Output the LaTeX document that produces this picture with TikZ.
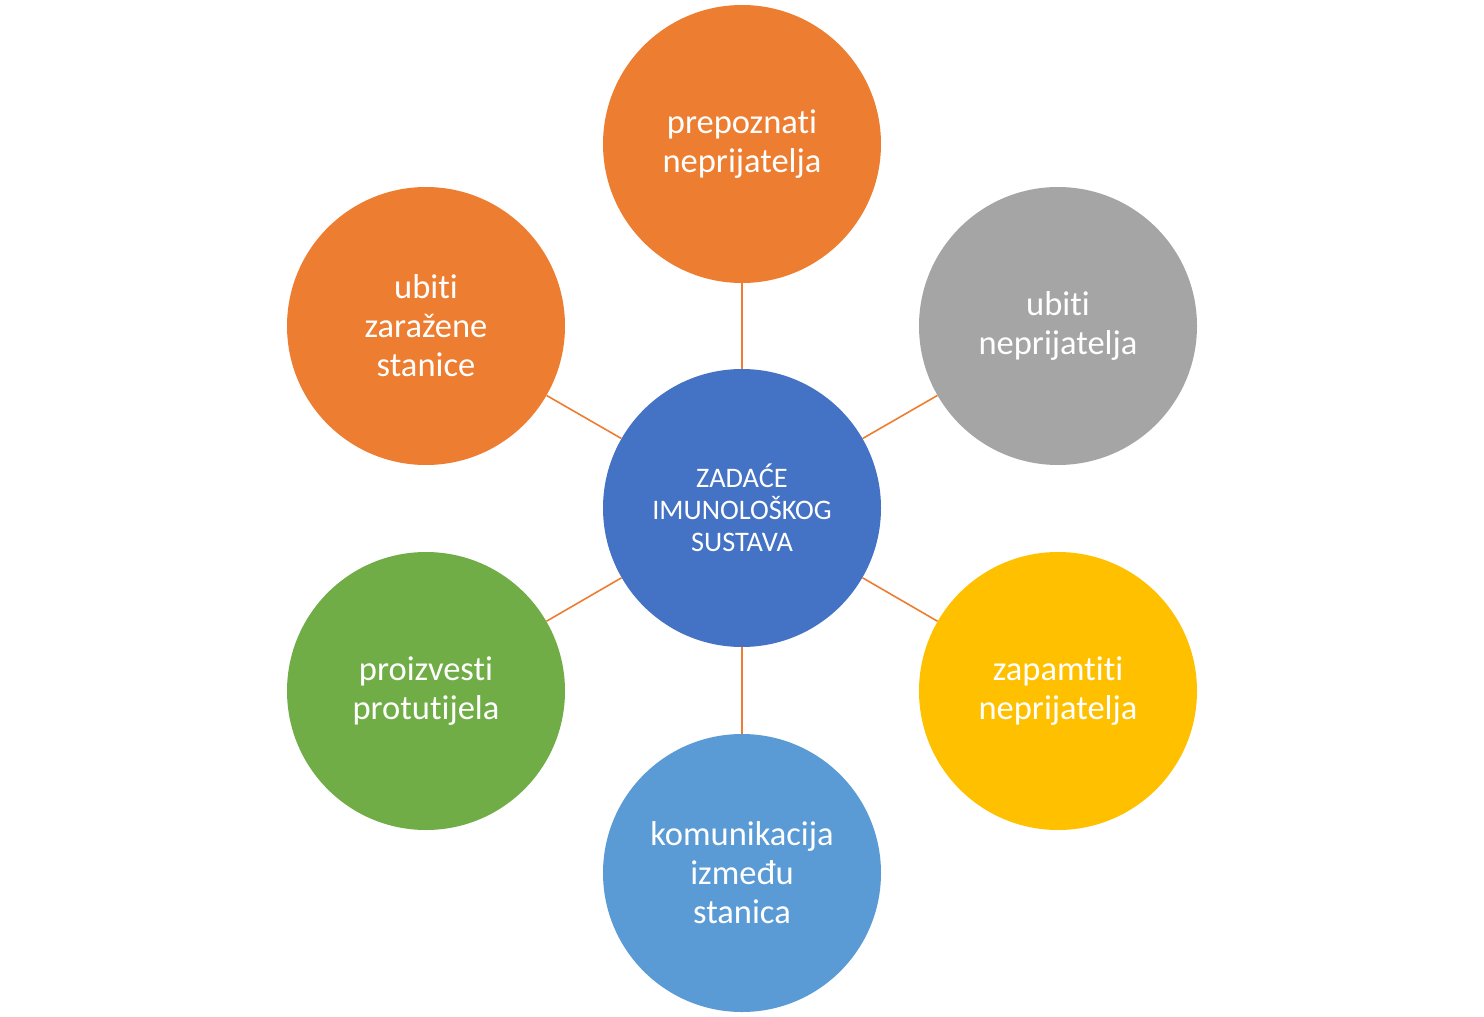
\documentclass[tikz,border=0pt]{standalone}
\usepackage{fontspec}
\setmainfont[Ligatures={NoCommon}]{Carlito}
\definecolor{cOrange}{HTML}{ED7D31}
\definecolor{cGray}{HTML}{A5A5A5}
\definecolor{cYellow}{HTML}{FFC000}
\definecolor{cLBlue}{HTML}{5B9BD5}
\definecolor{cGreen}{HTML}{70AD47}
\definecolor{cBlue}{HTML}{4472C4}
\begin{document}
\begin{tikzpicture}[x=1pt,y=-1pt,
  bubble/.style={circle,minimum size=278pt,inner sep=0pt,text=white,align=center,
    font=\fontsize{34.5}{39}\selectfont},
  hub/.style={bubble,fill=cBlue,font=\fontsize{28.3}{32}\selectfont},
  link/.style={draw=cOrange,line width=1.6pt}]
\useasboundingbox (0,0) rectangle (1484,1017);
\node[hub] (c) at (742,508) {ZADAĆE\\IMUNOLOŠKOG\\SUSTAVA};
\node[bubble,fill=cOrange] (t) at (742,144) {prepoznati\\neprijatelja};
\node[bubble,fill=cGray] (tr) at (1058,326) {ubiti\\neprijatelja};
\node[bubble,fill=cYellow] (br) at (1058,691) {zapamtiti\\neprijatelja};
\node[bubble,fill=cLBlue] (b) at (742,873) {komunikacija\\između\\stanica};
\node[bubble,fill=cGreen] (bl) at (426,691) {proizvesti\\protutijela};
\node[bubble,fill=cOrange] (tl) at (426,326) {ubiti\\zaražene\\stanice};
\foreach \n in {t,tr,br,b,bl,tl} \draw[link] (c) -- (\n);
\end{tikzpicture}
\end{document}
